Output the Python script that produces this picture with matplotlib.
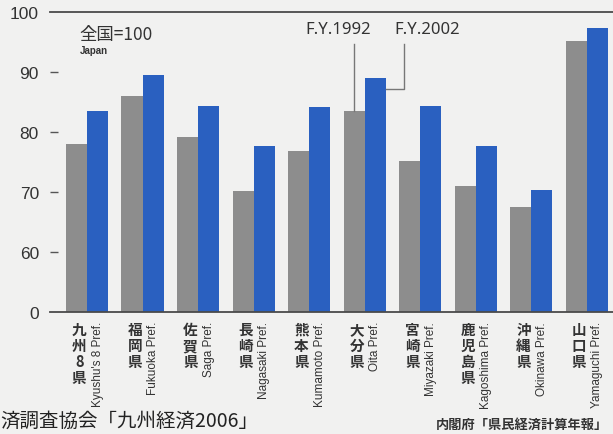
import numpy as np
import matplotlib
matplotlib.use('Agg')
import matplotlib.pyplot as plt

# Per-capita income index by prefecture (Japan = 100), F.Y.1992 vs F.Y.2002

pref_jp = ['九州8県', '福岡県', '佐賀県', '長崎県', '熊本県', '大分県', '宮崎県', '鹿児島県', '沖縄県', '山口県']
pref_en = ["Kyushu's 8 Pref.", 'Fukuoka Pref.', 'Saga Pref.', 'Nagasaki Pref.', 'Kumamoto Pref.',
           'Oita Pref.', 'Miyazaki Pref.', 'Kagoshima Pref.', 'Okinawa Pref.', 'Yamaguchi Pref.']
fy1992 = [78.0, 86.0, 79.2, 70.2, 76.8, 83.5, 75.2, 71.0, 67.5, 95.2]
fy2002 = [83.5, 89.5, 84.3, 77.7, 84.2, 89.0, 84.3, 77.7, 70.3, 97.3]

ytick_vals = [50, 60, 70, 80, 90, 100]
ytick_labels = ['0', '60', '70', '80', '90', '100']

# the axis is broken between 0 and 60, so "0" sits where 50 would be
base = 50

JP = ['Noto Sans CJK JP', 'DejaVu Sans']
SANS = ['Liberation Sans', 'DejaVu Sans']
bg = '#f1f1f0'
gray = '#8d8d8d'
blue = '#2a60c0'

fig = plt.figure(figsize=(6.13, 4.35), dpi=100, facecolor=bg)
ax = fig.add_axes([50 / 613, 122 / 435, 563 / 613, 300 / 435], facecolor=bg)

x = np.arange(len(pref_jp))
w = 0.38
ax.bar(x - w / 2, np.array(fy1992) - base, w, bottom=base, color=gray, linewidth=0)
ax.bar(x + w / 2, np.array(fy2002) - base, w, bottom=base, color=blue, linewidth=0)

ax.set_xlim(-0.666, 9.47)
ax.set_ylim(50, 100)

for s in ['left', 'right']:
    ax.spines[s].set_visible(False)
for s in ['top', 'bottom']:
    ax.spines[s].set_color('#4a4a4a')
    ax.spines[s].set_linewidth(1.3)

ax.set_xticks([])
ax.set_yticks(ytick_vals)
ax.set_yticklabels(ytick_labels, family=SANS, fontsize=12.5, color='#333333',
                   fontstretch='condensed')
ax.tick_params(axis='y', direction='in', length=6, width=1, color='#555555', pad=8)
ticks = ax.yaxis.get_major_ticks()
ticks[0].tick1line.set_visible(False)
ticks[-1].tick1line.set_visible(False)

# vertical prefecture names under the bars
xt = ax.get_xaxis_transform()
for i, (jp, en) in enumerate(zip(pref_jp, pref_en)):
    ax.text(i - 0.14, -0.03, '\n'.join(jp), transform=xt, family=JP, fontsize=10.5,
            linespacing=1.0, ha='center', va='top', color='#333333', fontweight='bold')
    ax.text(i + 0.19, -0.03, en, transform=xt, family=SANS, fontsize=8.5,
            rotation=90, ha='center', va='top', color='#333333')

# legend-like labels with leader lines
ax.text(-0.13, 96.3, '全国=100', family=JP, fontsize=12.5, ha='left', va='center', color='#333333')
ax.text(-0.13, 93.7, 'Japan', family=SANS, fontsize=7, ha='left', va='center',
        color='#333333', fontweight='bold')
ax.text(4.53, 97.2, 'F.Y.1992', family='Noto Sans', fontsize=12, ha='center', va='center',
        color='#333333')
ax.text(6.12, 97.2, 'F.Y.2002', family='Noto Sans', fontsize=12, ha='center', va='center',
        color='#333333')
ax.plot([5 - w / 2, 5 - w / 2], [94.7, fy1992[5]], color='#777777', lw=1)
ax.plot([5.70, 5.70, 5 + w], [94.7, 87.2, 87.2], color='#777777', lw=1)

# sources
fig.text(0.0, 14 / 435, '済調査協会「九州経済2006」', family=JP, fontsize=14,
         ha='left', va='center', color='#222222')
fig.text(608 / 613, 10 / 435, '内閣府「県民経済計算年報」', family=JP, fontsize=9.5,
         ha='right', va='center', color='#333333', fontweight='bold')

fig.savefig('out.png', dpi=100, facecolor=bg)
